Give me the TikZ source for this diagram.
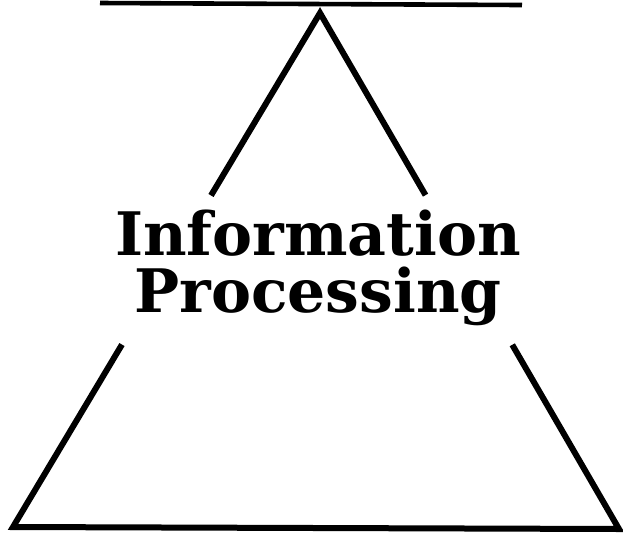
\documentclass[tikz,border=0pt]{standalone}
\usepackage{fontspec}
\newfontfamily\titlefont{DejaVu Serif}
\usetikzlibrary{calc}
\tikzset{
    side/.style={line width=3pt,line join=miter,draw=black},
    rule/.style={line width=2.3pt,draw=black},
    title/.style={
        align=center,font=\titlefont\bfseries\fontsize{30}{28.5}\selectfont,
        inner sep=0pt
    }
}
\begin{document}
\begin{tikzpicture}[x=0.5pt,y=-0.5pt]
\useasboundingbox (0,0) rectangle (623,538);

\coordinate (ruleL) at (100,3);
\coordinate (ruleR) at (522,5);
\coordinate (apex) at (320,13);
\coordinate (bl) at (13,527);
\coordinate (br) at (619,529);

\draw[rule] (ruleL) -- (ruleR);

\coordinate (lt) at ($(apex)!0.355!(bl)$);
\coordinate (lb) at ($(apex)!0.645!(bl)$);
\coordinate (rt) at ($(apex)!0.353!(br)$);
\coordinate (rb) at ($(apex)!0.643!(br)$);

\draw[side] (lt) -- (apex) -- (rt);
\draw[side] (lb) -- (bl) -- (br) -- (rb);

\node[title] (label) at (318,268) {Information\\Processing};

\end{tikzpicture}
\end{document}
